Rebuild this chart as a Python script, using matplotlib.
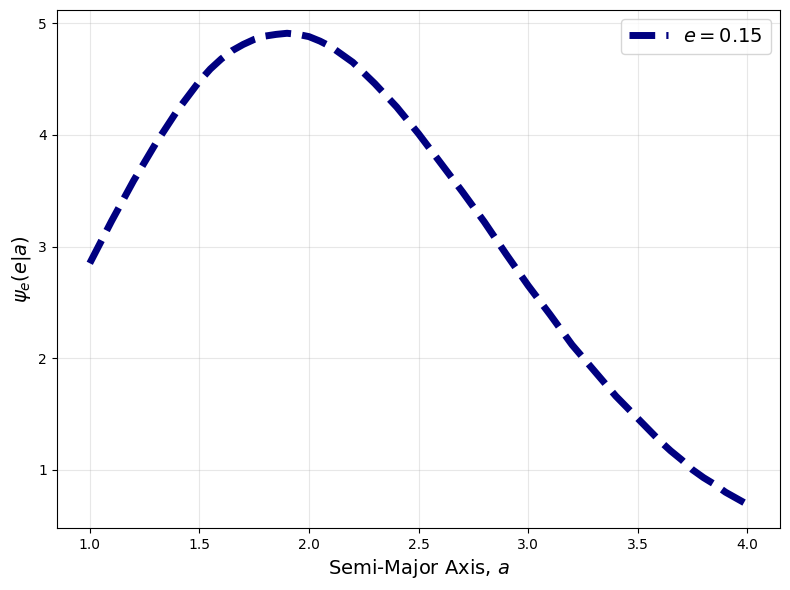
import numpy as np
import matplotlib.pyplot as plt

# values (finer steps near the peak and the tail)
a_vals = [1.0, 1.1, 1.2, 1.3, 1.4, 1.5, 1.55, 1.6, 1.65, 1.7, 1.75, 1.8,
          1.85, 1.9, 1.95, 2.0, 2.05, 2.1, 2.15, 2.2, 2.3, 2.4, 2.5,
          2.6, 2.7, 2.8, 2.9, 3.0, 3.1, 3.2, 3.3, 3.4, 3.5,
          3.55, 3.6, 3.65, 3.7, 3.75, 3.8, 3.85, 3.9, 3.95, 4.0]
psi_vals = [2.85, 3.23, 3.59, 3.92, 4.22, 4.48, 4.59, 4.68, 4.755, 4.81, 4.855, 4.885,
            4.90, 4.91, 4.90, 4.88, 4.84, 4.79, 4.72, 4.65, 4.46, 4.25, 4.01,
            3.75, 3.49, 3.22, 2.93, 2.65, 2.39, 2.12, 1.89, 1.66, 1.46,
            1.36, 1.26, 1.17, 1.09, 1.00, 0.93, 0.87, 0.80, 0.745, 0.69]
ecc = 0.15

fig, ax = plt.subplots(figsize=(7.9, 5.9), dpi=100)
ax.plot(a_vals, psi_vals, ls="--", lw=5, color="navy", label=rf"$e = {ecc}$")
ax.set_xlabel(r"Semi-Major Axis, $a$", fontsize=14)
ax.set_ylabel(r"$\psi_e(e|a)$", fontsize=14)
ax.legend(fontsize=14)
ax.grid(True, alpha=0.3)
fig.tight_layout(pad=0.7)
fig.savefig("out.png")
